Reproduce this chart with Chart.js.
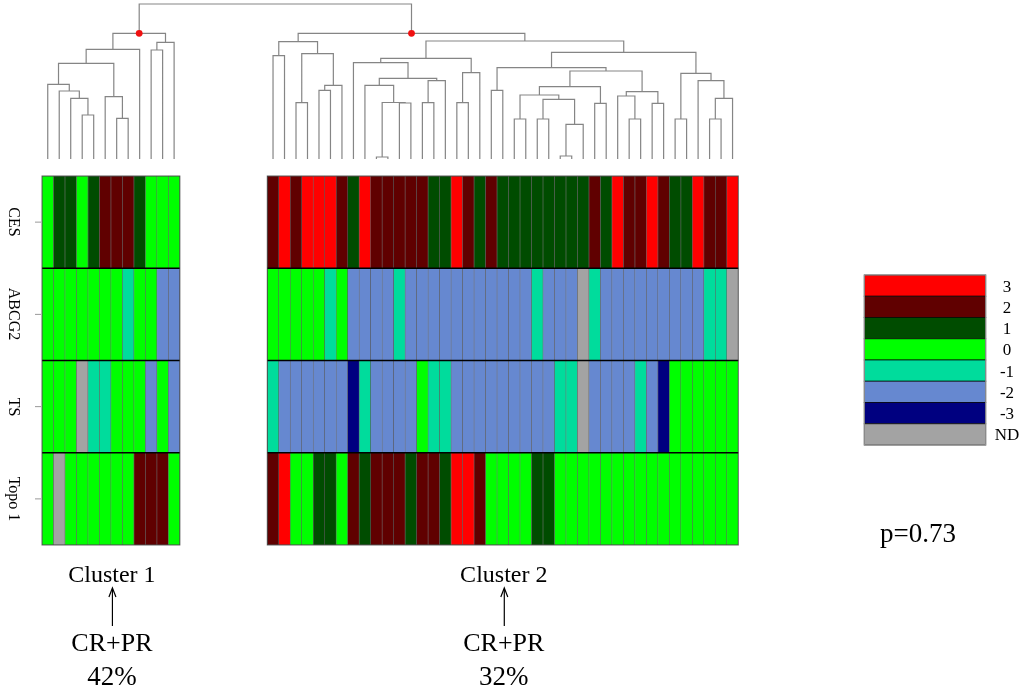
<!DOCTYPE html>
<html>
<head>
<meta charset="utf-8">
<script src="https://cdn.jsdelivr.net/npm/chart.js@4.4.1/dist/chart.umd.min.js"></script>
<style>
  html, body { margin: 0; padding: 0; background: #fff; }
  #wrap { position: relative; width: 1024px; height: 690px; overflow: hidden;
          font-family: "Liberation Serif", "Times New Roman", serif; color: #000; }
  #chart { position: absolute; left: 0; top: 0; }
  .lbl { position: absolute; white-space: nowrap; line-height: 1; transform: translate(-50%, -50%); }
  .gene { transform: translate(-50%, -50%) rotate(90deg); }
</style>
</head>
<body>
<div id="wrap">
  <canvas id="chart" width="1024" height="690"></canvas>
</div>
<script>
// ---------- data ----------
const clusterNames = ["Cluster 1", "Cluster 2"];
const clusterSizes = [12, 41];
const responseLabel = "CR+PR";
const responseRates = ["42%", "32%"];
const pValueText = "p=0.73";

const geneNames = ["CES", "ABCG2", "TS", "Topo 1"];

const cesValues = [0,1,1,0,1,2,2,2,1,0,0,0,
  2,3,2,3,3,3,2,1,3,2, 2,2,2,2,1,1,3,2,1,2, 1,1,1,1,1,1,1,1,2,1, 3,2,2,3,2,1,1,3,2,2,3];
const abcg2Values = [0,0,0,0,0,0,0,-1,0,0,-2,-2,
  0,0,0,0,0,-1,0,-2,-2,-2, -2,-1,-2,-2,-2,-2,-2,-2,-2,-2, -2,-2,-2,-1,-2,-2,-2,"ND",-1,-2, -2,-2,-2,-2,-2,-2,-2,-2,-1,-1,"ND"];
const tsValues = [0,0,0,"ND",-1,-1,0,0,0,-2,0,-2,
  -1,-2,-2,-2,-2,-2,-2,-3,-1,-2, -2,-2,-2,0,-1,-1,-2,-2,-2,-2, -2,-2,-2,-2,-2,-1,-1,"ND",-2,-2, -2,-2,-1,-2,-3,0,0,0,0,0,0];
const topo1Values = [0,"ND",0,0,0,0,0,0,2,2,2,0,
  2,3,0,0,1,1,0,2,1,2, 2,2,1,2,2,1,3,3,2,0, 0,0,0,1,1,0,0,0,0,0, 0,0,0,0,0,0,0,0,0,0,0];

const levelLabels = ["3", "2", "1", "0", "-1", "-2", "-3", "ND"];
const levelColors = ["#ff0000", "#600000", "#004c00", "#00ff00", "#00dc9c", "#6688d0", "#000080", "#a3a3a3"];

// hclust style merges: negative = leaf (column), positive = earlier merge row; [a, b, height]
const mergeRows = [
  [-4, -5, 4.4], [-3, 1, 6.07], [-2, 2, 6.8], [-1, 3, 7.47], [-7, -8, 4.07],
  [-6, 5, 6.23], [4, 6, 9.57], [7, -9, 10.97], [-10, -11, 10.9], [-12, 9, 11.67],
  [8, 10, 12.57],
  [-13, -14, 10.33], [-15, -16, 5.63], [-17, -18, 6.87], [14, -19, 7.37], [13, 15, 10.53],
  [12, 16, 11.73], [-22, -23, 0.2], [-24, -25, 5.6], [18, 19, 5.65], [-21, 20, 7.37],
  [-26, -27, 5.63], [22, -28, 7.83], [21, 23, 8.07], [-20, 24, 9.63], [-29, -30, 5.63],
  [26, -31, 8.63], [25, 27, 10.07], [-32, -33, 6.87], [-34, -35, 4.0], [-36, -37, 4.0],
  [-38, -39, 0.3], [32, -40, 3.47], [31, 33, 5.97], [30, 34, 6.4], [-41, -42, 5.57],
  [35, 36, 7.23], [-44, -45, 4.0], [-43, 38, 6.3], [-46, -47, 5.57], [39, 40, 6.73],
  [37, 41, 8.8], [29, 42, 9.13], [-48, -49, 4.0], [-51, -52, 4.0], [45, -53, 6.07],
  [-50, 46, 7.83], [44, 47, 8.57], [43, 48, 10.67], [28, 49, 11.8], [17, 50, 12.57],
  [11, 51, 15.5]
];
const markedNodes = [11, 51];

// ---------- layout ----------
const W = 1024, H = 690;
const plotLeft = 42, plotRight = 738.3, plotTop = 4, plotBottom = 545;
const heatTop = 176, leafBase = 159;
const clusterGap = 7.61;          // gap between blocks, in column widths
const heightPerPx = 0.1;          // dendrogram height units per pixel

const clusterStart = [];
let acc = 0;
clusterSizes.forEach((n, c) => { clusterStart.push(acc); acc += n + (c < clusterSizes.length - 1 ? clusterGap : 0); });
const xMax = acc;

function columnCenter(k) {
  let c = 0, first = 0;
  while (k >= first + clusterSizes[c]) { first += clusterSizes[c]; c++; }
  return clusterStart[c] + (k - first) + 0.5;
}

const rowPx = (plotBottom - heatTop) / geneNames.length;
const yMax = geneNames.length + (heatTop - plotTop) / rowPx;
const ydMax = (leafBase - plotTop) * heightPerPx;
const ydMin = (leafBase - plotBottom) * heightPerPx;

function colorFor(v) { return levelColors[levelLabels.indexOf(String(v))]; }

// ---------- dendrogram segments ----------
const nodeX = [], nodeH = [], dendroPoints = [];
function childPos(c) {
  return c < 0 ? { x: columnCenter(-c - 1), h: 0 } : { x: nodeX[c - 1], h: nodeH[c - 1] };
}
mergeRows.forEach(([a, b, h], i) => {
  const pa = childPos(a), pb = childPos(b);
  nodeX[i] = (pa.x + pb.x) / 2;
  nodeH[i] = h;
  dendroPoints.push({ x: pa.x, y: pa.h }, { x: pa.x, y: h }, { x: pb.x, y: h }, { x: pb.x, y: pb.h }, { x: pb.x, y: null });
});

// ---------- heatmap rows ----------
const geneValues = [cesValues, abcg2Values, tsValues, topo1Values];
const heatDatasets = geneValues.map((vals, g) => {
  const lo = geneNames.length - 1 - g;
  return {
    type: 'bar', label: geneNames[g], xAxisID: 'x', yAxisID: 'y', order: 2,
    data: vals.map((v, k) => ({ x: columnCenter(k), y: [lo, lo + 1] })),
    backgroundColor: vals.map(colorFor),
    borderColor: 'rgba(0,0,0,0.5)', borderWidth: 0.6, borderSkipped: false,
    grouped: false, barPercentage: 1, categoryPercentage: 1
  };
});

// extra drawing: row rules, ticks, colour key, arrows
const decor = {
  id: 'decor',
  afterDatasetsDraw(chart) {
    const ctx = chart.ctx, xs = chart.scales.x, ys = chart.scales.y;
    ctx.save();
    // row separators and block outline
    clusterSizes.forEach((n, c) => {
      const x0 = xs.getPixelForValue(clusterStart[c]), x1 = xs.getPixelForValue(clusterStart[c] + n);
      ctx.strokeStyle = '#000'; ctx.lineWidth = 1.3;
      for (let r = 1; r < geneNames.length; r++) {
        const y = ys.getPixelForValue(r);
        ctx.beginPath(); ctx.moveTo(x0, y); ctx.lineTo(x1, y); ctx.stroke();
      }
      ctx.strokeStyle = 'rgba(60,60,60,0.8)'; ctx.lineWidth = 1;
      ctx.strokeRect(x0, ys.getPixelForValue(geneNames.length), x1 - x0, ys.getPixelForValue(0) - ys.getPixelForValue(geneNames.length));
    });
    // axis ticks
    ctx.strokeStyle = '#999'; ctx.lineWidth = 1;
    geneNames.forEach((g, i) => {
      const y = ys.getPixelForValue(geneNames.length - 0.5 - i);
      ctx.beginPath(); ctx.moveTo(35, y); ctx.lineTo(41, y); ctx.stroke();
    });
    // colour key
    const kx = 864.3, ky = 275, kw = 121.4, kh = 21.25;
    levelColors.forEach((col, i) => {
      ctx.fillStyle = col;
      ctx.fillRect(kx, ky + i * kh, kw, kh);
      ctx.strokeStyle = 'rgba(0,0,0,0.7)'; ctx.lineWidth = 1;
      ctx.strokeRect(kx, ky + i * kh, kw, kh);
    });
    ctx.strokeStyle = '#999';
    ctx.strokeRect(kx, ky, kw, kh * levelColors.length);
    // arrows under each cluster
    ctx.strokeStyle = '#000'; ctx.lineWidth = 1.2;
    clusterSizes.forEach((n, c) => {
      const x = xs.getPixelForValue(clusterStart[c] + n / 2) + 1.5;
      ctx.beginPath(); ctx.moveTo(x, 626); ctx.lineTo(x, 589); ctx.stroke();
      ctx.beginPath(); ctx.moveTo(x - 3.5, 597); ctx.lineTo(x, 588); ctx.lineTo(x + 3.5, 597); ctx.stroke();
    });
    ctx.restore();
  }
};

const chart = new Chart(document.getElementById('chart'), {
  type: 'bar',
  data: {
    datasets: [
      {
        type: 'scatter', label: 'clusters', xAxisID: 'x', yAxisID: 'yd', order: 0,
        data: markedNodes.map(n => ({ x: nodeX[n - 1], y: nodeH[n - 1] })),
        pointRadius: 3.4, backgroundColor: '#f01010', borderWidth: 0, clip: false
      },
      {
        type: 'line', label: 'dendrogram', xAxisID: 'x', yAxisID: 'yd', order: 1,
        data: dendroPoints, borderColor: '#858585', borderWidth: 1.2,
        pointRadius: 0, tension: 0, spanGaps: false, fill: false, clip: false
      },
      ...heatDatasets
    ]
  },
  options: {
    responsive: false,
    animation: false,
    layout: { padding: { left: plotLeft, right: W - plotRight, top: plotTop, bottom: H - plotBottom } },
    plugins: { legend: { display: false }, tooltip: { enabled: false } },
    scales: {
      x: { type: 'linear', min: 0, max: xMax, offset: false, display: false },
      y: { type: 'linear', min: 0, max: yMax, display: false },
      yd: { type: 'linear', min: ydMin, max: ydMax, display: false }
    }
  },
  plugins: [decor]
});

// ---------- text ----------
const wrap = document.getElementById('wrap');
function addText(txt, x, y, size, cls) {
  const d = document.createElement('div');
  d.className = 'lbl' + (cls ? ' ' + cls : '');
  d.textContent = txt;
  d.style.left = x + 'px';
  d.style.top = y + 'px';
  d.style.fontSize = size + 'px';
  wrap.appendChild(d);
}
const xs = chart.scales.x, ys = chart.scales.y;
geneNames.forEach((g, i) => addText(g, 14, ys.getPixelForValue(geneNames.length - 0.5 - i), 16, 'gene'));
clusterNames.forEach((name, c) => {
  const x = xs.getPixelForValue(clusterStart[c] + clusterSizes[c] / 2) + 1;
  addText(name, x, 574, 24);
  addText(responseLabel, x, 643, 26);
  addText(responseRates[c], x, 676, 27);
});
levelLabels.forEach((lab, i) => addText(lab, 1007, 275 + 21.25 * (i + 0.5), 17));
addText(pValueText, 918, 533, 27);
</script>
</body>
</html>
